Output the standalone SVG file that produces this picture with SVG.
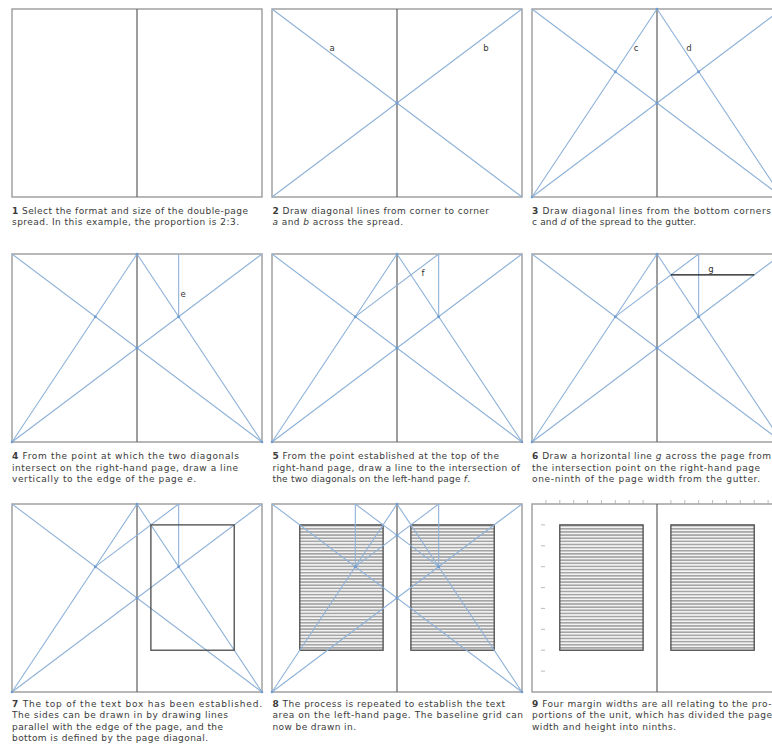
<svg xmlns="http://www.w3.org/2000/svg" width="772" height="753" viewBox="0 0 772 753">
<style>
.frame{fill:none;stroke:#9b9b9b;stroke-width:1.4}
.gut{stroke:#6a6a6a;stroke-width:1.3}
.bl{stroke:#8fb2d8;stroke-width:1.1;fill:none}
.dot{fill:#6f9cd0}
.box{fill:none;stroke:#4a4a4a;stroke-width:1.3}
.gl{stroke:#111;stroke-width:1.3}
.lab{font-family:"DejaVu Sans",sans-serif;font-size:8.5px;fill:#333;text-anchor:middle}
.cap{font-family:"DejaVu Sans","Liberation Sans",sans-serif;font-size:9px;fill:#3a3a3a}
.tick{stroke:#a8a8a8;stroke-width:0.8}
.b{font-weight:bold}
.i{font-style:italic}
</style>
<defs>
<pattern id="grid" patternUnits="userSpaceOnUse" x="0" y="20.889" width="10" height="3.1333">
<rect width="10" height="3.1333" fill="#f4f4f4"/>
<rect width="10" height="1.6" fill="#a5a5a5"/>
</pattern>
<g id="fr"><rect class="frame" x="-125" y="0" width="250" height="188"/><line class="gut" x1="0" y1="0" x2="0" y2="188"/></g>
<path id="ab" class="bl" d="M-125 0L125 188M-125 188L125 0"/>
<path id="cd" class="bl" d="M-125 188L0 0L125 188"/>
<path id="e" class="bl" d="M41.667 0V62.667"/>
<path id="f" class="bl" d="M41.667 0L-41.667 62.667"/>
<path id="e2" class="bl" d="M-41.667 0V62.667"/>
<path id="f2" class="bl" d="M-41.667 0L41.667 62.667"/>
<g id="d1"><circle class="dot" cx="0" cy="94" r="1.5"/></g>
<g id="d3"><circle class="dot" cx="0" cy="94" r="1.5"/><circle class="dot" cx="-41.667" cy="62.667" r="1.5"/><circle class="dot" cx="41.667" cy="62.667" r="1.5"/><circle class="dot" cx="-125" cy="188" r="1.3"/><circle class="dot" cx="125" cy="188" r="1.3"/><circle class="dot" cx="0" cy="0" r="1.3"/></g>
</defs>

<g id="panel1" transform="translate(137,9)">
<use href="#fr"/>
</g>

<g id="panel2" transform="translate(397,9)">
<use href="#fr"/>
<use href="#ab"/>
<use href="#d1"/>
<text class="lab" x="-65" y="42">a</text>
<text class="lab" x="89" y="42">b</text>
</g>

<g id="panel3" transform="translate(657,9)">
<use href="#fr"/>
<use href="#ab"/><use href="#cd"/>
<use href="#d3"/>
<text class="lab" x="-21" y="42">c</text>
<text class="lab" x="32" y="42">d</text>
</g>

<g id="panel4" transform="translate(137,254)">
<use href="#fr"/>
<use href="#ab"/><use href="#cd"/><use href="#e"/>
<use href="#d3"/>
<text class="lab" x="46" y="43">e</text>
</g>

<g id="panel5" transform="translate(397,254)">
<use href="#fr"/>
<use href="#ab"/><use href="#cd"/><use href="#e"/><use href="#f"/>
<use href="#d3"/>
<text class="lab" x="26" y="22">f</text>
</g>

<g id="panel6" transform="translate(657,254)">
<use href="#fr"/>
<use href="#ab"/><use href="#cd"/><use href="#e"/><use href="#f"/>
<use href="#d3"/>
<line class="gl" x1="13.889" y1="20.889" x2="97.222" y2="20.889"/>
<text class="lab" x="54" y="18">g</text>
</g>

<g id="panel7" transform="translate(137,504)">
<use href="#fr"/>
<use href="#ab"/><use href="#cd"/><use href="#e"/><use href="#f"/>
<use href="#d3"/>
<rect class="box" x="13.889" y="20.889" width="83.333" height="125.333"/>
</g>

<g id="panel8" transform="translate(397,504)">
<use href="#fr"/>
<rect x="13.889" y="20.889" width="83.333" height="125.333" fill="url(#grid)"/>
<rect x="-97.222" y="20.889" width="83.333" height="125.333" fill="url(#grid)"/>
<rect class="box" x="13.889" y="20.889" width="83.333" height="125.333"/>
<rect class="box" x="-97.222" y="20.889" width="83.333" height="125.333"/>
<use href="#ab"/><use href="#cd"/><use href="#e"/><use href="#f"/><use href="#e2"/><use href="#f2"/>
<use href="#d3"/>
<circle class="dot" cx="0" cy="31.333" r="1.3"/>
</g>

<g id="panel9" transform="translate(657,504)">
<use href="#fr"/>
<rect x="13.889" y="20.889" width="83.333" height="125.333" fill="url(#grid)"/>
<rect x="-97.222" y="20.889" width="83.333" height="125.333" fill="url(#grid)"/>
<rect class="box" x="13.889" y="20.889" width="83.333" height="125.333"/>
<rect class="box" x="-97.222" y="20.889" width="83.333" height="125.333"/>
<path class="tick" d="M-111.1 -4V0M-97.2 -4V0M-83.3 -4V0M-69.4 -4V0M-55.6 -4V0M-41.7 -4V0M-27.8 -4V0M-13.9 -4V0M13.9 -4V0M27.8 -4V0M41.7 -4V0M55.6 -4V0M69.4 -4V0M83.3 -4V0M97.2 -4V0M111.1 -4V0"/>
<path class="tick" d="M-116 20.9h4M-116 41.8h4M-116 62.7h4M-116 83.6h4M-116 104.4h4M-116 125.3h4M-116 146.2h4M-116 167.1h4"/>
</g>

<g id="captions">
<text class="cap" x="12" y="213.5" textLength="236" lengthAdjust="spacing"><tspan class="b">1</tspan> Select the format and size of the double-page</text>
<text class="cap" x="12" y="225" textLength="227" lengthAdjust="spacing">spread. In this example, the proportion is 2:3.</text>

<text class="cap" x="272.5" y="213.5" textLength="216.5" lengthAdjust="spacing"><tspan class="b">2</tspan> Draw diagonal lines from corner to corner</text>
<text class="cap" x="272.5" y="225" textLength="130.5" lengthAdjust="spacing"><tspan class="i">a</tspan> and <tspan class="i">b</tspan> across the spread.</text>

<text class="cap" x="532" y="213.5" textLength="239" lengthAdjust="spacing"><tspan class="b">3</tspan> Draw diagonal lines from the bottom corners</text>
<text class="cap" x="532" y="225" textLength="164" lengthAdjust="spacing">c and <tspan class="i">d</tspan> of the spread to the gutter.</text>

<text class="cap" x="12" y="459" textLength="227" lengthAdjust="spacing"><tspan class="b">4</tspan> From the point at which the two diagonals</text>
<text class="cap" x="12" y="470.5" textLength="226" lengthAdjust="spacing">intersect on the right-hand page, draw a line</text>
<text class="cap" x="12" y="482" textLength="184" lengthAdjust="spacing">vertically to the edge of the page <tspan class="i">e</tspan>.</text>

<text class="cap" x="272.5" y="459" textLength="226.5" lengthAdjust="spacing"><tspan class="b">5</tspan> From the point established at the top of the</text>
<text class="cap" x="272.5" y="470.5" textLength="247.5" lengthAdjust="spacing">right-hand page, draw a line to the intersection of</text>
<text class="cap" x="272.5" y="482" textLength="197.5" lengthAdjust="spacing">the two diagonals on the left-hand page <tspan class="i">f</tspan>.</text>

<text class="cap" x="532" y="459" textLength="239" lengthAdjust="spacing"><tspan class="b">6</tspan> Draw a horizontal line <tspan class="i">g</tspan> across the page from</text>
<text class="cap" x="532" y="470.5" textLength="228" lengthAdjust="spacing">the intersection point on the right-hand page</text>
<text class="cap" x="532" y="482" textLength="228" lengthAdjust="spacing">one-ninth of the page width from the gutter.</text>

<text class="cap" x="12" y="706.5" textLength="250" lengthAdjust="spacing"><tspan class="b">7</tspan> The top of the text box has been established.</text>
<text class="cap" x="12" y="718" textLength="216" lengthAdjust="spacing">The sides can be drawn in by drawing lines</text>
<text class="cap" x="12" y="729.5" textLength="211" lengthAdjust="spacing">parallel with the edge of the page, and the</text>
<text class="cap" x="12" y="741" textLength="196" lengthAdjust="spacing">bottom is defined by the page diagonal.</text>

<text class="cap" x="272.5" y="706.5" textLength="232.5" lengthAdjust="spacing"><tspan class="b">8</tspan> The process is repeated to establish the text</text>
<text class="cap" x="272.5" y="718" textLength="250.5" lengthAdjust="spacing">area on the left-hand page. The baseline grid can</text>
<text class="cap" x="272.5" y="729.5" textLength="83.5" lengthAdjust="spacing">now be drawn in.</text>

<text class="cap" x="532" y="706.5" textLength="239.5" lengthAdjust="spacing"><tspan class="b">9</tspan> Four margin widths are all relating to the pro-</text>
<text class="cap" x="532" y="718" textLength="240" lengthAdjust="spacing">portions of the unit, which has divided the page</text>
<text class="cap" x="532" y="729.5" textLength="144" lengthAdjust="spacing">width and height into ninths.</text>
</g>
</svg>
